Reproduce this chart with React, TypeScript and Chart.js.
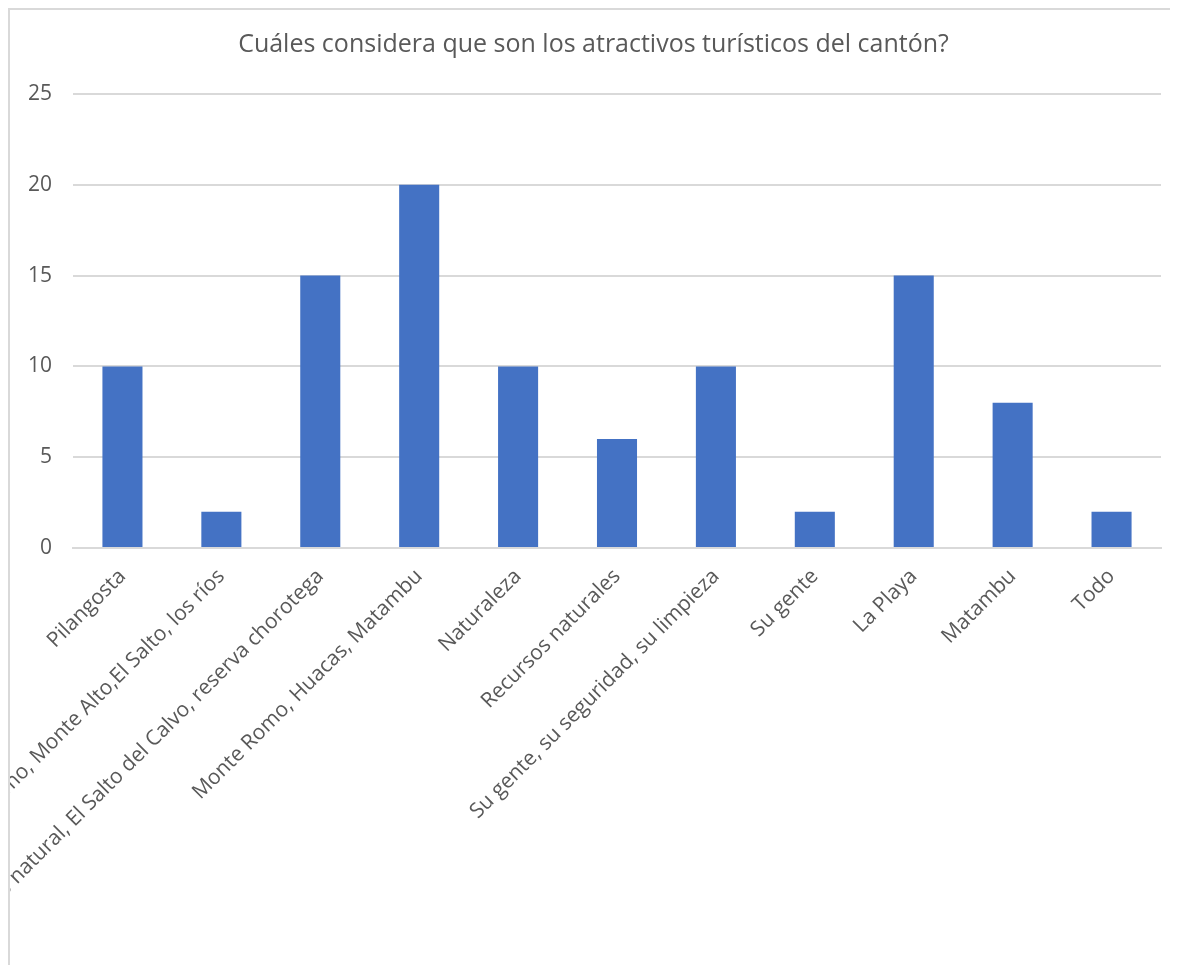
import React, { useEffect, useRef } from "react";
import { Chart, registerables } from "chart.js";

Chart.register(...registerables);

const titleText = "Cuáles considera que son los atractivos turísticos del cantón?";

const categories = [
  "Pilangosta",
  "Cerro Romo, Monte Alto,El Salto, los ríos",
  "Patrimonio natural, El Salto del Calvo, reserva chorotega",
  "Monte Romo, Huacas, Matambu",
  "Naturaleza",
  "Recursos naturales",
  "Su gente, su seguridad, su limpieza",
  "Su gente",
  "La Playa",
  "Matambu",
  "Todo",
];

const values = [10, 2, 15, 20, 10, 6, 10, 2, 15, 8, 2];

const yMin = 0;
const yMax = 25;
const yStep = 5;

const FONT = "'Open Sans', 'Noto Sans', sans-serif";
const TEXT = "#595959";
const GRID = "#d9d9d9";

export default function App() {
  const ref = useRef<HTMLCanvasElement>(null);

  useEffect(() => {
    if (!ref.current) return;
    const chart = new Chart(ref.current, {
      type: "bar",
      data: {
        labels: categories,
        datasets: [
          {
            data: values,
            backgroundColor: "#4472C4",
            barPercentage: 0.405,
            categoryPercentage: 1,
          },
        ],
      },
      options: {
        animation: false,
        responsive: true,
        maintainAspectRatio: false,
        layout: { padding: { left: 16, right: 17, top: 0, bottom: 0 } },
        plugins: {
          legend: { display: false },
          tooltip: { enabled: false },
          title: {
            display: true,
            text: titleText,
            color: TEXT,
            font: { family: FONT, size: 25, weight: "normal" },
            padding: { top: 20, bottom: 34 },
          },
        },
        scales: {
          x: {
            grid: { display: false },
            border: { color: GRID, width: 2 },
            ticks: {
              color: TEXT,
              font: { family: FONT, size: 21 },
              minRotation: 45,
              maxRotation: 45,
              autoSkip: false,
              padding: 8,
            },
            afterFit: (s: any) => {
              s.height = 417;
              s.paddingLeft = 0;
              s.paddingRight = 0;
            },
          },
          y: {
            min: yMin,
            max: yMax,
            ticks: {
              stepSize: yStep,
              color: TEXT,
              font: { family: FONT, size: 21 },
              padding: 21,
            },
            grid: { color: GRID, lineWidth: 2, drawTicks: false },
            border: { display: false },
            afterFit: (s: any) => {
              s.width = 47;
            },
          },
        },
      },
    });
    return () => chart.destroy();
  }, []);

  return (
    <>
      <style>{`html,body{overflow:hidden}`}</style>
      <div
        style={{
          width: 1168,
          height: 955,
          borderLeft: `2px solid ${GRID}`,
          borderTop: `2px solid ${GRID}`,
          overflow: "hidden",
          position: "relative",
        }}
      >
        <canvas ref={ref} />
      </div>
    </>
  );
}
